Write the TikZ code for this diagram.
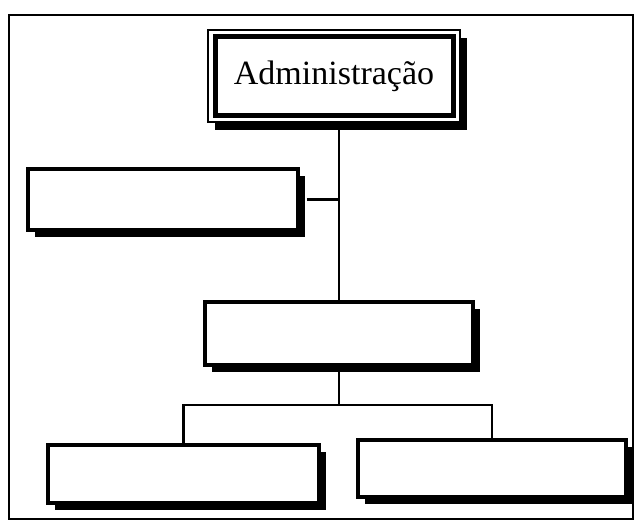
\documentclass[tikz,border=0pt]{standalone}
\usepackage{fontspec}
\setmainfont{Liberation Serif}
\usetikzlibrary{shadows}
\begin{document}
\begin{tikzpicture}[x=1pt,y=-1pt,
  box/.style={draw, line width=3.5pt, fill=white, minimum width=#1, inner sep=0pt,
    drop shadow={opacity=1, fill=black, shadow xshift=7pt, shadow yshift=-7pt}},
  topbox/.style={draw, line width=2.5pt, fill=white, inner sep=0pt,
    drop shadow={opacity=1, fill=black, shadow xshift=7pt, shadow yshift=-8pt}},
  conn/.style={line width=2.6pt}]
\useasboundingbox (0,0) rectangle (637,525);
\draw[line width=2.5pt] (9,15) rectangle (633,519);
% top box
\node[topbox, minimum width=252pt, minimum height=92pt] (top) at (334,76) {};
\draw[line width=5pt] ([shift={(9,8)}]top.north west) rectangle ([shift={(-8,-8)}]top.south east);
\node[font=\fontsize{34}{36}\selectfont] (title) at (top.center) {Administração};
% other boxes
\node[box=270pt, minimum height=61pt] (left) at (163,199.5) {};
\node[box=268pt, minimum height=63pt] (mid) at (339,333.5) {};
\node[box=271pt, minimum height=58pt] (bl) at (183.5,474) {};
\node[box=268pt, minimum height=57pt] (br) at (492,468.5) {};
\coordinate (bar) at (339,405);
% connectors
\draw[conn] (top.south -| mid.north) -- (mid.north);
\draw[conn] ([xshift=7pt]left.east) -- (left.east -| mid.north);
\draw[conn] (mid.south) -- (bar);
\draw[conn] (bl.north) |- (bar) -| (br.north);
\end{tikzpicture}
\end{document}
